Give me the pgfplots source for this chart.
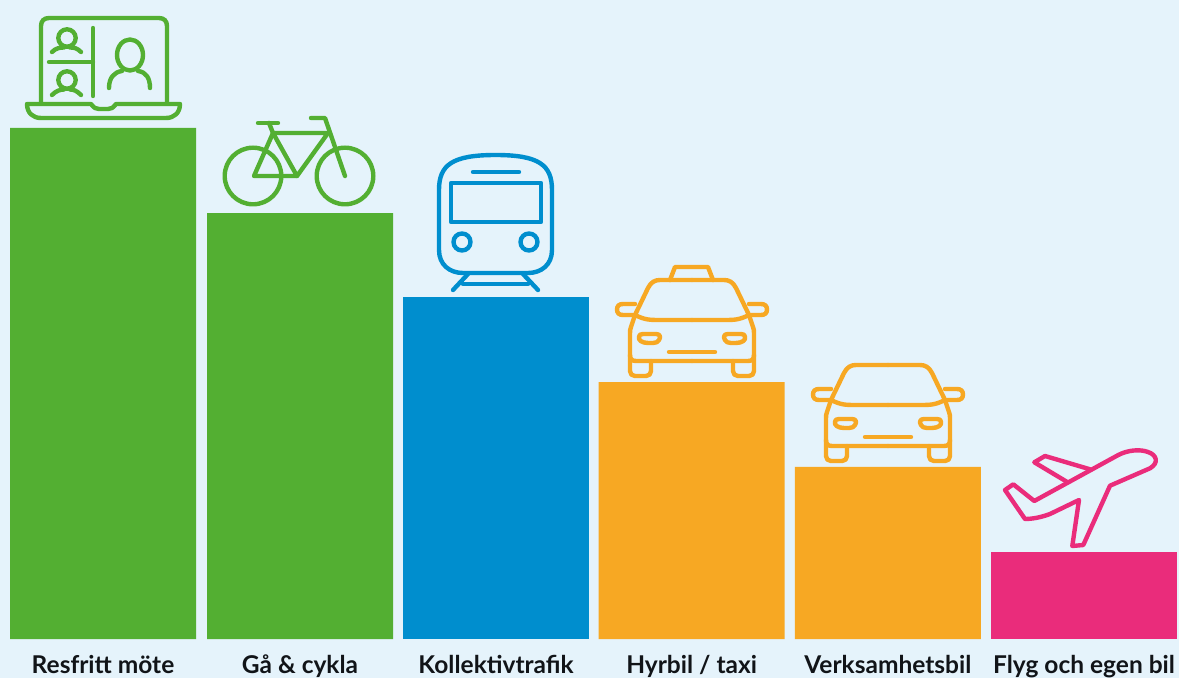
\documentclass[border=0pt]{standalone}
\usepackage{pgfplots}
\pgfplotsset{compat=1.18}
\usepackage{fontspec}
\setmainfont{Lato}
\definecolor{bg}{HTML}{E5F3FB}
\definecolor{cgreen}{HTML}{53AF32}
\definecolor{cblue}{HTML}{008ECE}
\definecolor{corange}{HTML}{F7A823}
\definecolor{cpink}{HTML}{EA2C7B}
\definecolor{ctext}{HTML}{111418}
\newcommand\carhalf{%
  \draw (692,280) -- (660,280) .. controls (655,280) and (651,282) .. (648,288) -- (635,315)
        -- (631,327) .. controls (630,329) and (630,331) .. (630,334) -- (630,371)
        .. controls (630,374) and (632,376) .. (635,376) -- (646,376)
        .. controls (649,376) and (651,374) .. (651,371) -- (651,361);
  \draw (635,315) .. controls (645,320) and (650,320) .. (660,320) -- (692,320);
  \draw (630,355) .. controls (630,359) and (632,361) .. (636,361) -- (692,361);
  \draw (635,304) -- (623,304) .. controls (619,304) and (617,306) .. (617,309.5)
        .. controls (617,313) and (619,315) .. (623,315) -- (636,315);
  \draw (643,334) -- (656,334) .. controls (660,334) and (661,337) .. (659,340)
        .. controls (658,342) and (656,343) .. (653,343) -- (648,343)
        .. controls (642,343) and (638,340) .. (639,337) .. controls (639,335) and (640,334) .. (643,334) -- cycle;
  \draw (692,352) -- (669,352);
}
\newcommand\caricon{%
  \carhalf
  \begin{scope}[shift={(1384,0)},xscale=-1]\carhalf\end{scope}%
}
\begin{document}
\begin{tikzpicture}
\fill[bg] (0pt,-39pt) rectangle (1179pt,639pt);
\useasboundingbox (0pt,-39pt) rectangle (1179pt,639pt);
\begin{axis}[
  at={(0pt,0pt)}, anchor=south west,
  scale only axis, width=1179pt, height=639pt,
  xmin=-0.52497, xmax=5.48420, ymin=0, ymax=7.5,
  ybar, bar width=186pt, bar shift=0pt,
  axis line style={draw=none},
  major tick length=0pt,
  ytick=\empty,
  xtick={0,1.004,2.003,3,4,5},
  xticklabels={Resfritt möte,Gå \& cykla,Kollektivtrafik,Hyrbil / taxi,Verksamhetsbil,Flyg och egen bil},
  xticklabel style={font=\fontsize{24.5}{27}\selectfont\bfseries, text=ctext, anchor=base, yshift=-34pt, text height=15pt},
  clip=false,
]
\addplot[fill=cgreen,draw=none] coordinates {(0,6) (1.004,5)};
\addplot[fill=cblue,draw=none] coordinates {(2.003,4.015)};
\addplot[fill=corange,draw=none] coordinates {(3,3.015) (4,2.02)};
\addplot[fill=cpink,draw=none] coordinates {(5,1.02)};
\end{axis}
\begin{scope}[x=1pt,y=-1pt,yshift=639pt,line width=4.4pt,line cap=round,line join=round]
% laptop
\draw[color=cgreen] (41,103) -- (41,26) .. controls (41,21) and (44,18) .. (49,18) -- (159,18) .. controls (164,18) and (167,21) .. (167,26) -- (167,103);
\draw[color=cgreen] (27,104) -- (91,104) .. controls (94,108) and (96,109) .. (99,109) -- (108,109) .. controls (111,109) and (113,108) .. (116,104) -- (180,104)
  .. controls (180,113) and (174,118) .. (166,118) -- (41,118) .. controls (33,118) and (27,113) .. (27,104) -- cycle;
\draw[color=cgreen] (93,28) -- (93,96);
\draw[color=cgreen] (49,62) -- (93,62);
\draw[color=cgreen] (67,38) circle (8.7pt);
\draw[color=cgreen] (52,52) .. controls (56,48) and (60,47.5) .. (64,47.5);
\draw[color=cgreen] (81,52) .. controls (77,48) and (74,47.5) .. (70,47.5);
\draw[color=cgreen] (67,80) circle (8.7pt);
\draw[color=cgreen] (52,95) .. controls (56,91) and (60,89.5) .. (64,89.5);
\draw[color=cgreen] (81,95) .. controls (77,91) and (74,89.5) .. (70,89.5);
\draw[color=cgreen] (130,55) ellipse [x radius=13pt, y radius=15.5pt];
\draw[color=cgreen] (109,88) .. controls (109,78) and (114,72) .. (122,71);
\draw[color=cgreen] (150,88) .. controls (150,78) and (146,72) .. (138,71);
% bicycle
\draw[color=cgreen] (253,176) circle (28.3pt);
\draw[color=cgreen] (345,176) circle (28.3pt);
\draw[color=cgreen] (254,176) -- (273,133) -- (328,133) -- (297,176) -- cycle;
\draw[color=cgreen] (273,133) -- (297,176);
\draw[color=cgreen] (273,133) -- (269,123);
\draw[color=cgreen] (258,123) -- (278,123);
\draw[color=cgreen] (345,176) -- (325,118) -- (311,118);
% train
\draw[color=cblue] (439,190) .. controls (439,165) and (452,155) .. (495.5,155) .. controls (539,155) and (552,165) .. (552,190) -- (552,250) .. controls (552,265) and (541,273) .. (528,273) -- (463,273) .. controls (450,273) and (439,265) .. (439,250) -- cycle;
\draw[color=cblue] (451,183) rectangle (541,222);
\draw[color=cblue] (473,172) -- (519,172);
\draw[color=cblue] (462,242) circle (8.5pt);
\draw[color=cblue] (529,242) circle (8.5pt);
\draw[color=cblue] (468,274) -- (453,290);
\draw[color=cblue] (523,274) -- (538,290);
\draw[color=cblue] (463,284) -- (528,284);
% taxi
\begin{scope}
\tikzset{every path/.style={color=corange}}
\caricon
\draw (670,280) -- (675,267) -- (708,267) -- (713,280);
\begin{scope}[shift={(196,85)}]\caricon\end{scope}
\end{scope}
% plane
\draw[color=cpink] (1005,490) -- (1013.3,484.3) -- (1034.3,501) -- (1118.3,455) .. controls (1128,450) and (1140,449) .. (1148,452) .. controls (1157,455) and (1159,463) .. (1150,468.3) -- (1110,485.7) -- (1083.3,545) -- (1072.3,546) -- (1079,500) -- (1050,514) .. controls (1042,517) and (1033,519) .. (1025,519) -- cycle;
\draw[color=cpink] (1066.7,481.7) -- (1034.3,462.3) -- (1045,456) -- (1090,469.3);
\end{scope}
\end{tikzpicture}
\end{document}
